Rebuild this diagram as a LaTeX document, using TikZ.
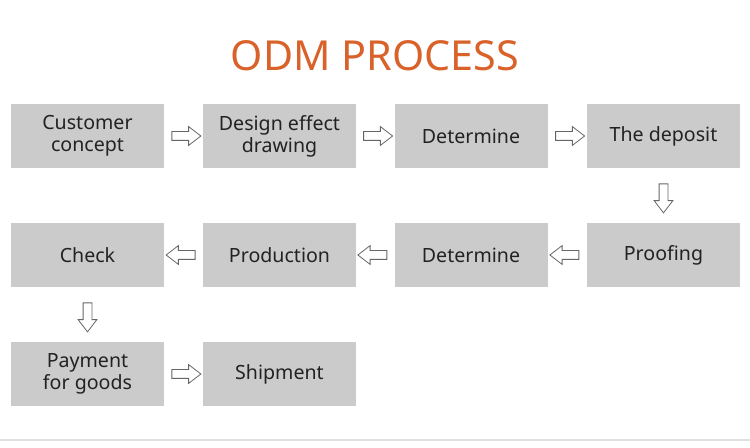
\documentclass[tikz,border=0pt]{standalone}
\usepackage{fontspec}
\setmainfont{Noto Sans}
\usetikzlibrary{shapes.arrows}
\definecolor{odmorange}{HTML}{D9622B}
\definecolor{boxgray}{HTML}{CBCBCB}
\definecolor{textgray}{HTML}{222222}
\tikzset{
  stepbox/.style={fill=boxgray, minimum width=114.75pt, minimum height=48pt, inner sep=0pt,
    align=center, text=textgray, font=\fontsize{14.7}{16.5}\selectfont},
  flow/.style={single arrow, draw=black!60, fill=white, line width=0.6pt,
    minimum height=21.75pt, inner sep=3pt, single arrow head extend=3.75pt,
    single arrow head indent=0pt, single arrow tip angle=75}
}
\newcommand{\flowto}[3]{\path (#1) -- (#2) node[flow, midway, shape border rotate=#3] {};}
\begin{document}
\begin{tikzpicture}[x=0.75pt, y=-0.75pt]
	\useasboundingbox (0,0) rectangle (750,448);

	\node[text=odmorange, font=\fontsize{31}{36}\selectfont] (title) at (375,56) {ODM PROCESS};

	% first row
	\node[stepbox] (concept) at (87.5,136) {Customer\\concept};
	\node[stepbox] (design) at (279.5,136) {Design effect\\drawing};
	\node[stepbox] (determineA) at (471,136) {Determine};
	\node[stepbox] (deposit) at (663.5,136) {The deposit};

	% second row
	\node[stepbox] (check) at (87.5,255) {Check};
	\node[stepbox] (production) at (279.5,255) {Production};
	\node[stepbox] (determineB) at (471,255) {Determine};
	\node[stepbox] (proofing) at (663.5,255) {Proofing};

	% third row
	\node[stepbox] (payment) at (87.5,374) {Payment\\for goods};
	\node[stepbox] (shipment) at (279.5,374) {Shipment};

	\flowto{concept}{design}{0}
	\flowto{design}{determineA}{0}
	\flowto{determineA}{deposit}{0}
	\flowto{deposit}{proofing}{270}
	\flowto{proofing}{determineB}{180}
	\flowto{determineB}{production}{180}
	\flowto{production}{check}{180}
	\flowto{check}{payment}{270}
	\flowto{payment}{shipment}{0}

	\draw[black!12, line width=1.5pt] (0,440) -- (750,440);
\end{tikzpicture}
\end{document}
